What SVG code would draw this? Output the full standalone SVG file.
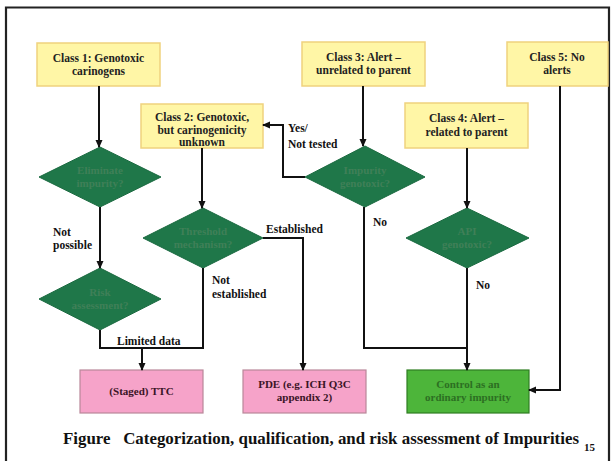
<svg xmlns="http://www.w3.org/2000/svg" width="611" height="461" viewBox="0 0 611 461">
<style>
.cls{fill:#fff6a6;stroke:#efd27e;stroke-width:1.5}
.dia{fill:#1f7749;stroke:#1a6a40;stroke-width:1}
.dt{font-family:"Liberation Serif",serif;font-weight:bold;font-size:11px;fill:#3f8058;text-anchor:middle}
.bt{font-family:"Liberation Serif",serif;font-weight:bold;font-size:11.5px;fill:#222;text-anchor:middle}
.pink{fill:#f6a3c9;stroke:#b9889a;stroke-width:1.2}
.grn{fill:#4db53a;stroke:#2f7e22;stroke-width:1.2}
.gt{font-family:"Liberation Serif",serif;font-weight:bold;font-size:11px;fill:#2c6f22;text-anchor:middle}
.pt{font-family:"Liberation Serif",serif;font-weight:bold;font-size:11px;fill:#3a1426;text-anchor:middle}
.lbl{font-family:"Liberation Serif",serif;font-weight:bold;font-size:11.5px;fill:#111}
.ln{fill:none;stroke:#111;stroke-width:2}
</style>
<defs>
<marker id="ah" markerUnits="userSpaceOnUse" markerWidth="8" markerHeight="8" viewBox="0 0 8 8" refX="7" refY="4" orient="auto">
<path d="M0,0.5 L8,4 L0,7.5 z" fill="#111"/>
</marker>
</defs>
<rect x="0" y="0" width="611" height="461" fill="#fff"/>
<path d="M6,470 V7.5 H609 V470" fill="none" stroke="#222" stroke-width="2.2"/>

<g id="class1"><rect class="cls" x="37" y="43" width="123" height="43"/><text class="bt" x="98.5" y="62">Class 1: Genotoxic</text><text class="bt" x="98.5" y="75">carinogens</text></g>
<g id="class2"><rect class="cls" x="141" y="104" width="122" height="44"/><text class="bt" x="202" y="121">Class 2: Genotoxic,</text><text class="bt" x="202" y="133.5">but carinogenicity</text><text class="bt" x="202" y="146">unknown</text></g>
<g id="class3"><rect class="cls" x="302" y="42" width="123" height="44"/><text class="bt" x="363.5" y="61">Class 3: Alert –</text><text class="bt" x="363.5" y="74">unrelated to parent</text></g>
<g id="class4"><rect class="cls" x="405" y="103" width="123" height="45"/><text class="bt" x="466.5" y="122">Class 4: Alert –</text><text class="bt" x="466.5" y="136">related to parent</text></g>
<g id="class5"><rect class="cls" x="507" y="42" width="101" height="44"/><text class="bt" x="557" y="61">Class 5: No</text><text class="bt" x="557" y="74">alerts</text></g>

<g id="d-eliminate"><polygon class="dia" points="100,147 161,177 100,207 39,177"/><text class="dt" x="100" y="174">Eliminate</text><text class="dt" x="100" y="187">impurity?</text></g>
<g id="d-risk"><polygon class="dia" points="100,268 161,299 100,330 39,299"/><text class="dt" x="100" y="296">Risk</text><text class="dt" x="100" y="309">assessment?</text></g>
<g id="d-threshold"><polygon class="dia" points="203,208 263,238 203,268 143,238"/><text class="dt" x="203" y="235">Threshold</text><text class="dt" x="203" y="248">mechanism?</text></g>
<g id="d-impurity"><polygon class="dia" points="365,146 425,177 365,207 305,177"/><text class="dt" x="365" y="174">Impurity</text><text class="dt" x="365" y="187">genotoxic?</text></g>
<g id="d-api"><polygon class="dia" points="467,208 529,238 467,268 406,238"/><text class="dt" x="467" y="235">API</text><text class="dt" x="467" y="248">genotoxic?</text></g>

<g id="ttc"><rect class="pink" x="80" y="370" width="123" height="43"/><text class="pt" x="141.5" y="395">(Staged) TTC</text></g>
<g id="pde"><rect class="pink" x="243" y="370" width="123" height="43"/><text class="pt" x="304.5" y="388">PDE (e.g. ICH Q3C</text><text class="pt" x="304.5" y="401">appendix 2)</text></g>
<g id="control"><rect class="grn" x="407" y="370" width="122" height="43"/><text class="gt" x="468" y="388">Control as an</text><text class="gt" x="468" y="401">ordinary impurity</text></g>

<g id="connectors">
<path class="ln" d="M99,86 V147" marker-end="url(#ah)"/>
<path class="ln" d="M100,207 V268" marker-end="url(#ah)"/>
<path class="ln" d="M100,330 V348 H203 V268"/>
<path class="ln" d="M142,348 V370" marker-end="url(#ah)"/>
<path class="ln" d="M202,148 V208" marker-end="url(#ah)"/>
<path class="ln" d="M263,238 H303 V370" marker-end="url(#ah)"/>
<path class="ln" d="M363,86 V146" marker-end="url(#ah)"/>
<path class="ln" d="M305,177 H283 V125 H263" marker-end="url(#ah)"/>
<path class="ln" d="M364,207 V348 H467"/>
<path class="ln" d="M467,148 V208" marker-end="url(#ah)"/>
<path class="ln" d="M467,268 V370" marker-end="url(#ah)"/>
<path class="ln" d="M560,86 V390 H529" marker-end="url(#ah)"/>
<text class="lbl" x="53" y="236">Not</text>
<text class="lbl" x="53" y="249">possible</text>
<text class="lbl" x="212" y="284">Not</text>
<text class="lbl" x="212" y="298">established</text>
<text class="lbl" x="117" y="345">Limited data</text>
<text class="lbl" x="266" y="233">Established</text>
<text class="lbl" x="288" y="132">Yes/</text>
<text class="lbl" x="288" y="148">Not tested</text>
<text class="lbl" x="373" y="226">No</text>
<text class="lbl" x="476" y="289">No</text>
</g>

<text x="63" y="444" font-family="Liberation Serif,serif" font-weight="bold" font-size="16.5" fill="#111" textLength="516" lengthAdjust="spacingAndGlyphs" xml:space="preserve">Figure   Categorization, qualification, and risk assessment of Impurities</text>
<text x="584" y="451" font-family="Liberation Serif,serif" font-weight="bold" font-size="11" fill="#111">15</text>
</svg>
